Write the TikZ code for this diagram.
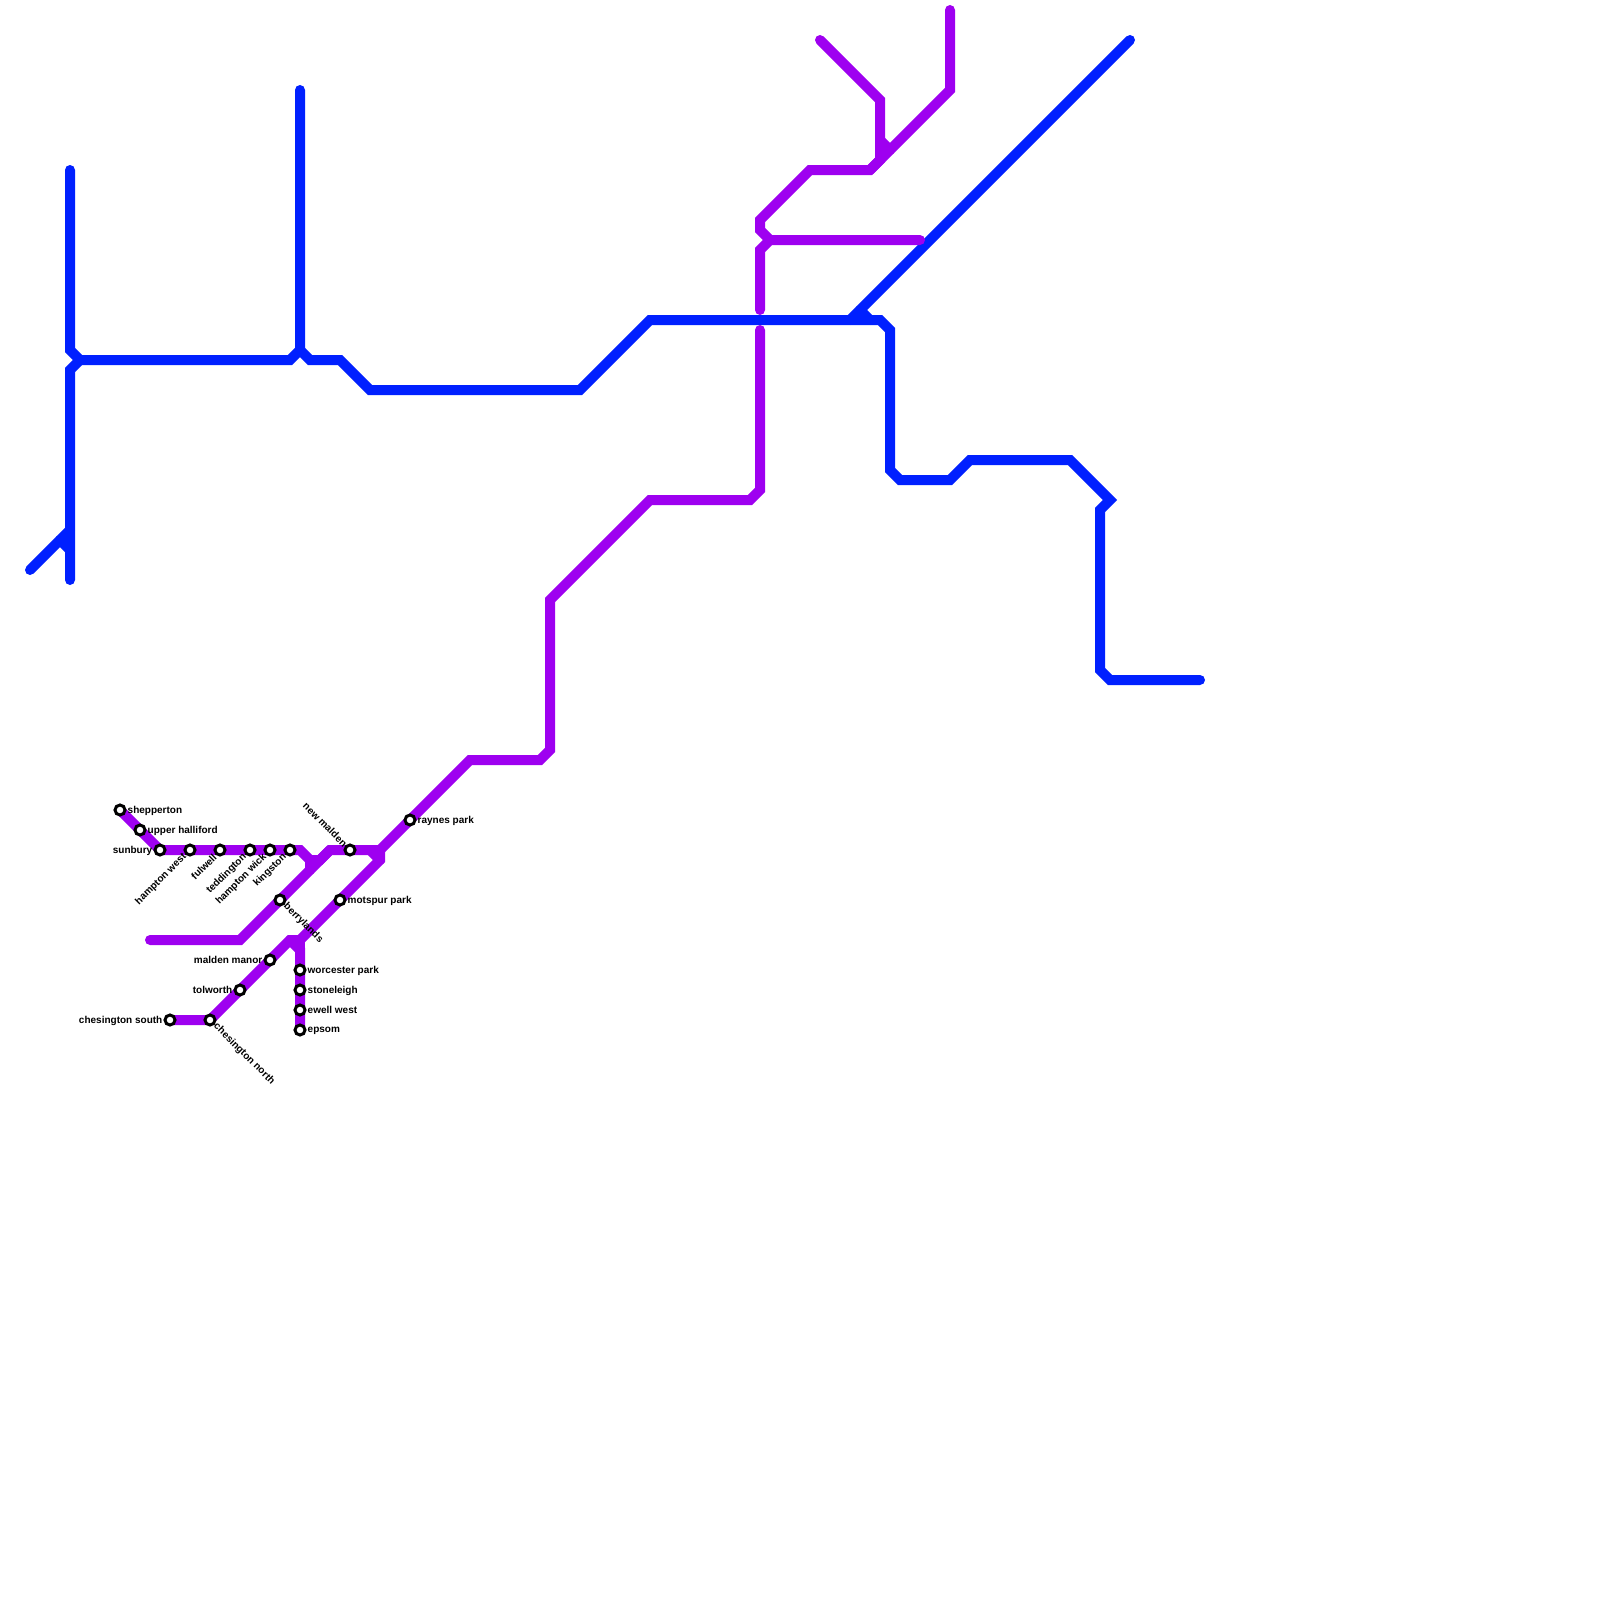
\documentclass[tikz,border=0pt]{standalone}
\usepackage{fontspec}
\setmainfont{Liberation Sans}
\usetikzlibrary{backgrounds}
\definecolor{linepurple}{HTML}{9E00F0}
\definecolor{lineblue}{HTML}{0020FF}
\tikzset{
  x=1pt,y=-1pt,
  stn/.style={circle,draw=black,fill=white,line width=3pt,minimum size=10pt,inner sep=0pt},
  lbl/.style={font=\bfseries\fontsize{10}{12}\selectfont,text=black,inner sep=0pt},
  purpleline/.style={draw=linepurple,line width=10pt,line cap=round,line join=miter},
  blueline/.style={draw=lineblue,line width=10pt,line cap=round,line join=miter}
}
\begin{document}
\begin{tikzpicture}
\useasboundingbox (0,0) rectangle (1600,1600);
% stations
\node[stn] (shepperton) at (120,810) {};
\node[stn] (upper) at (140,830) {};
\node[stn] (sunbury) at (160,850) {};
\node[stn] (hamptonwest) at (190,850) {};
\node[stn] (fulwell) at (220,850) {};
\node[stn] (teddington) at (250,850) {};
\node[stn] (hamptonwick) at (270,850) {};
\node[stn] (kingston) at (290,850) {};
\node[stn] (newmalden) at (350,850) {};
\node[stn] (raynes) at (410,820) {};
\node[stn] (berrylands) at (280,900) {};
\node[stn] (motspur) at (340,900) {};
\node[stn] (maldenmanor) at (270,960) {};
\node[stn] (tolworth) at (240,990) {};
\node[stn] (chessouth) at (170,1020) {};
\node[stn] (chesnorth) at (210,1020) {};
\node[stn] (worcester) at (300,970) {};
\node[stn] (stoneleigh) at (300,990) {};
\node[stn] (ewell) at (300,1010) {};
\node[stn] (epsom) at (300,1030) {};
% labels
\node[lbl,anchor=west] (l1) at (127.5,810.6) {shepperton};
\node[lbl,anchor=west] (l2) at (147.5,830.6) {upper halliford};
\node[lbl,anchor=east] (l3) at (152.5,850.6) {sunbury};
\node[lbl,anchor=east,rotate=45] (l4) at (185,855.5) {hampton west};
\node[lbl,anchor=east,rotate=45] (l5) at (215,855.5) {fulwell};
\node[lbl,anchor=east,rotate=45] (l6) at (245,855.5) {teddington};
\node[lbl,anchor=east,rotate=45] (l7) at (265,855.5) {hampton wick};
\node[lbl,anchor=east,rotate=45] (l8) at (285,855.5) {kingston};
\node[lbl,anchor=east,rotate=-45] (l9) at (345.5,845) {new malden};
\node[lbl,anchor=west] (l10) at (417.5,820.6) {raynes park};
\node[lbl,anchor=west,rotate=-45] (l11) at (285,905) {berrylands};
\node[lbl,anchor=west] (l12) at (347.5,900.6) {motspur park};
\node[lbl,anchor=east] (l13) at (262.5,960.3) {malden manor};
\node[lbl,anchor=east] (l14) at (232.5,990.3) {tolworth};
\node[lbl,anchor=east] (l15) at (162.5,1020.6) {chesington south};
\node[lbl,anchor=west,rotate=-45] (l16) at (215,1025) {chesington north};
\node[lbl,anchor=west] (l17) at (307.5,970.6) {worcester park};
\node[lbl,anchor=west] (l18) at (307.5,990.6) {stoneleigh};
\node[lbl,anchor=west] (l19) at (307.5,1010) {ewell west};
\node[lbl,anchor=west] (l20) at (307.5,1030.6) {epsom};
\begin{scope}[on background layer]
% blue
\draw[blueline] (70,170) -- (70,350) -- (80,360) -- (290,360) -- (300,350) -- (300,90);
\draw[blueline] (300,350) -- (310,360) -- (340,360) -- (370,390) -- (580,390) -- (650,320) -- (880,320) -- (890,330) -- (890,470) -- (900,480) -- (950,480) -- (970,460) -- (1070,460) -- (1110,500) -- (1100,510) -- (1100,670) -- (1110,680) -- (1200,680);
\draw[blueline] (80,360) -- (70,370) -- (70,580);
\draw[blueline] (30,570) -- (70,530);
\draw[blueline] (60,540) -- (70,550);
\draw[blueline] (1130,40) -- (850,320);
\draw[blueline] (860,310) -- (870,320);
% purple
\draw[purpleline] (shepperton.center) -- (upper.center) -- (sunbury.center) -- (hamptonwest.center) -- (fulwell.center) -- (teddington.center) -- (hamptonwick.center) -- (kingston.center) -- (300,850) -- (310,860) -- (320,860) -- (330,850) -- (newmalden.center) -- (380,850) -- (raynes.center) -- (470,760) -- (540,760) -- (550,750) -- (550,600) -- (650,500) -- (750,500) -- (760,490) -- (760,330);
\draw[purpleline] (310,860) -- (310,870);
\draw[purpleline] (150,940) -- (240,940) -- (berrylands.center) -- (330,850);
\draw[purpleline] (380,850) -- (380,860) -- (motspur.center) -- (300,940) -- (290,940) -- (maldenmanor.center) -- (tolworth.center) -- (chesnorth.center) -- (chessouth.center);
\draw[purpleline] (370,850) -- (380,860);
\draw[purpleline] (290,940) -- (300,950) -- (worcester.center) -- (stoneleigh.center) -- (ewell.center) -- (epsom.center);
\draw[purpleline] (300,940) -- (300,950);
\draw[purpleline] (760,310) -- (760,250) -- (770,240) -- (920,240);
\draw[purpleline] (770,240) -- (760,230) -- (760,220) -- (810,170) -- (870,170) -- (950,90) -- (950,10);
\draw[purpleline] (820,40) -- (880,100) -- (880,160) -- (870,170);
\draw[purpleline] (880,140) -- (890,150);
\end{scope}
\end{tikzpicture}
\end{document}
